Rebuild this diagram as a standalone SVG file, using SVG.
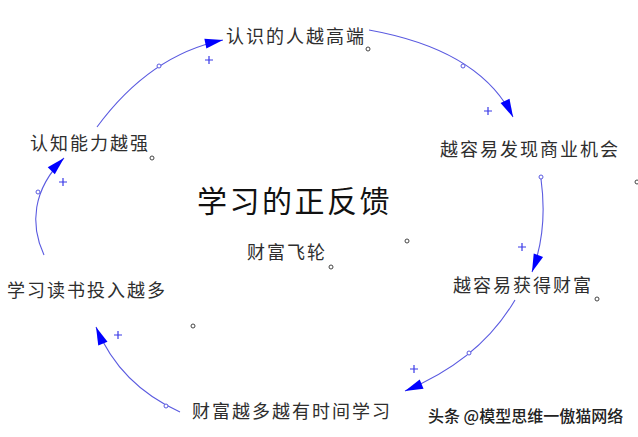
<svg xmlns="http://www.w3.org/2000/svg" width="638" height="437" viewBox="0 0 638 437">
<style>
.lbl{font-family:"Noto Sans CJK SC","Liberation Sans",sans-serif;font-size:18px;fill:#2e2e2e;letter-spacing:2px}
.title{font-family:"Noto Sans CJK SC","Liberation Sans",sans-serif;font-size:30px;fill:#111;letter-spacing:2.5px}
.wm{font-family:"Noto Sans CJK SC","Liberation Sans",sans-serif;font-size:16px;fill:#222;font-weight:500}
.arc{fill:none;stroke:#5a5ae0;stroke-width:1.1}
.handle{fill:#fff;stroke:#5a5ae0;stroke-width:1}
.dot{fill:#fff;stroke:#444;stroke-width:1}
.plus{stroke:#3a3ae8;stroke-width:1.2;fill:none}
</style>
<defs>
<marker id="ah" markerUnits="userSpaceOnUse" markerWidth="19" markerHeight="11" refX="18" refY="5" orient="auto" overflow="visible">
<path d="M0,0 L18,5 L0,10 z" fill="#0000ff"/>
</marker>
<path id="pl" d="M-4,0 H4 M0,-4 V4"/>
</defs>
<rect width="638" height="437" fill="#fff"/>
<g id="connectors">
<path class="arc" d="M44,255 C30,225 32,190 64,158" marker-end="url(#ah)"/>
<circle class="handle" cx="38" cy="192" r="2"/>
<use href="#pl" class="plus" x="63" y="182"/>
<path class="arc" d="M97,127 Q150,55 223,40" marker-end="url(#ah)"/>
<circle class="handle" cx="159" cy="66" r="2"/>
<use href="#pl" class="plus" x="209" y="60"/>
<path class="arc" d="M369,30 Q480,50 513,117" marker-end="url(#ah)"/>
<circle class="handle" cx="463" cy="66" r="2"/>
<use href="#pl" class="plus" x="488" y="111"/>
<path class="arc" d="M541,179 Q548,230 532,272" marker-end="url(#ah)"/>
<circle class="handle" cx="541" cy="177" r="2"/>
<use href="#pl" class="plus" x="522" y="247"/>
<path class="arc" d="M515,300 Q480,360 405,391" marker-end="url(#ah)"/>
<circle class="handle" cx="469" cy="353" r="2"/>
<use href="#pl" class="plus" x="414" y="369"/>
<path class="arc" d="M180,412 Q120,385 96,327" marker-end="url(#ah)"/>
<circle class="handle" cx="166" cy="406" r="2"/>
<use href="#pl" class="plus" x="118" y="335"/>
</g>
<g id="n-gaoduan"><text class="lbl" x="226" y="43">认识的人越高端</text><circle class="dot" cx="368" cy="49" r="2"/></g>
<g id="n-jihui"><text class="lbl" x="440" y="156">越容易发现商业机会</text></g>
<g id="n-renzhi"><text class="lbl" x="30" y="150">认知能力越强</text><circle class="dot" cx="152" cy="158" r="2"/></g>
<g id="n-title"><text class="title" x="197" y="212">学习的正反馈</text><circle class="dot" cx="407" cy="241" r="2"/></g>
<g id="n-feilun"><text class="lbl" x="247" y="259">财富飞轮</text><circle class="dot" cx="331" cy="267" r="2"/></g>
<g id="n-caifu"><text class="lbl" x="453" y="292">越容易获得财富</text><circle class="dot" cx="597" cy="299" r="2"/></g>
<g id="n-dushu"><text class="lbl" x="7" y="297">学习读书投入越多</text><circle class="dot" cx="193" cy="326" r="2"/></g>
<g id="n-shijian"><text class="lbl" x="192" y="418">财富越多越有时间学习</text></g>
<g id="edge-dot"><circle class="dot" cx="637" cy="182" r="2"/></g>
<text class="wm" x="428" y="422">头条 @模型思维一傲猫网络</text>
</svg>
